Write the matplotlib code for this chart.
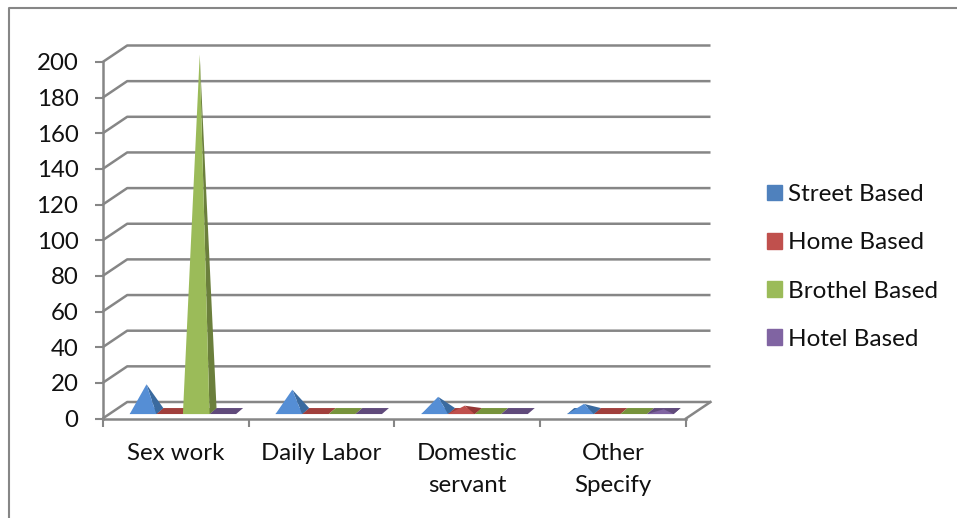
import matplotlib.pyplot as plt
from matplotlib.lines import Line2D
from matplotlib.patches import Patch, Polygon

plt.rcParams['font.family'] = ['Lato', 'DejaVu Sans']

categories = ["Sex work", "Daily Labor", "Domestic\nservant", "Other\nSpecify"]
series_names = ["Street Based", "Home Based", "Brothel Based", "Hotel Based"]
street = [15, 12, 8, 4]
home = [0, 0, 3, 0]
brothel = [200, 0, 0, 0]
hotel = [0, 0, 0, 1]
series_values = [street, home, brothel, hotel]
y_ticks = list(range(0, 201, 20))

# front, side, flat (zero height) colours per series
legend_cols = ["#4F81BD", "#C0504D", "#9BBB59", "#8064A2"]
front_cols = ["#558ED5", "#C0504D", "#9BBB59", "#8064A2"]
side_cols = ["#3A6A9F", "#953735", "#6B7F3C", "#604A7B"]
flat_cols = ["#3A6A9F", "#A03F3C", "#77933C", "#604A7B"]
grey = "#868686"

W, H = 957, 518
fig = plt.figure(figsize=(W / 100, H / 100), dpi=100)
ax = fig.add_axes([102.7 / W, (H - 418.5) / H, (686 - 102.7) / W, (418.5 - 62) / H])
ax.set_xlim(0, 4)
ax.set_ylim(0, 200)

# outer frame of the picture, only top and left show
fig.add_artist(Line2D([8.5 / W, 8.5 / W, 1], [0, 1 - 8 / H, 1 - 8 / H], color=grey, lw=1.5))

# 3d look: pixels turned into data units
depth_x = 24.5 / 145.8
depth_y = 16.5 / 1.7825
bar_w = 26.6 / 145.8
bar_start = 27.0 / 145.8
bar_dx = 7 / 145.8
bar_dy = 6 / 1.7825
bar_y0 = 2.5

for t in y_ticks:
    ax.plot([0, depth_x, 4 + depth_x], [t, t + depth_y, t + depth_y], color=grey, lw=1.8,
            clip_on=False, zorder=1, solid_capstyle='butt')
ax.plot([4, 4 + depth_x], [0, depth_y], color=grey, lw=1.8, clip_on=False, zorder=1)

for c in range(len(categories)):
    for s, vals in enumerate(series_values):
        x0 = c + bar_start + s * bar_w
        x1 = x0 + bar_w
        base = [(x0, bar_y0), (x1, bar_y0), (x1 + bar_dx, bar_y0 + bar_dy), (x0 + bar_dx, bar_y0 + bar_dy)]
        ax.add_patch(Polygon(base, color=flat_cols[s], lw=0, zorder=3, clip_on=False))
        v = vals[c]
        if v > 0:
            apex = ((x0 + x1 + bar_dx) / 2, bar_y0 + bar_dy / 2 + v)
            ax.add_patch(Polygon([base[1], base[2], apex], color=side_cols[s], lw=0, zorder=4, clip_on=False))
            ax.add_patch(Polygon([base[0], base[1], apex], color=front_cols[s], lw=0, zorder=5, clip_on=False))

for side in ['top', 'right']:
    ax.spines[side].set_visible(False)
for side in ['left', 'bottom']:
    ax.spines[side].set_color(grey)
    ax.spines[side].set_linewidth(1.8)
    ax.spines[side].set_zorder(2)

ax.set_yticks(y_ticks)
ax.set_xticks(range(len(categories) + 1))
ax.set_xticklabels([])
ax.set_xticks([c + 0.5 for c in range(len(categories))], minor=True)
ax.set_xticklabels(categories, minor=True, linespacing=1.62)
ax.tick_params(axis='x', which='major', length=6, width=1.5, color=grey)
ax.tick_params(axis='x', which='minor', length=0, labelsize=17.3, pad=18)
ax.tick_params(axis='y', length=6, width=1.5, color=grey, labelsize=17.3, pad=11.5, labelcolor='#111111')
ax.tick_params(axis='x', which='minor', labelcolor='#111111')

handles = [Patch(color=col) for col in legend_cols]
ax.legend(handles, series_names, loc='center left', bbox_to_anchor=(767 / W, 1 - 267 / H),
          bbox_transform=fig.transFigure, frameon=False, fontsize=17.5, labelcolor='#111111',
          handlelength=0.62, handleheight=0.62, handletextpad=0.25, labelspacing=1.12,
          borderpad=0, borderaxespad=0)

fig.savefig("out.png", dpi=100)
